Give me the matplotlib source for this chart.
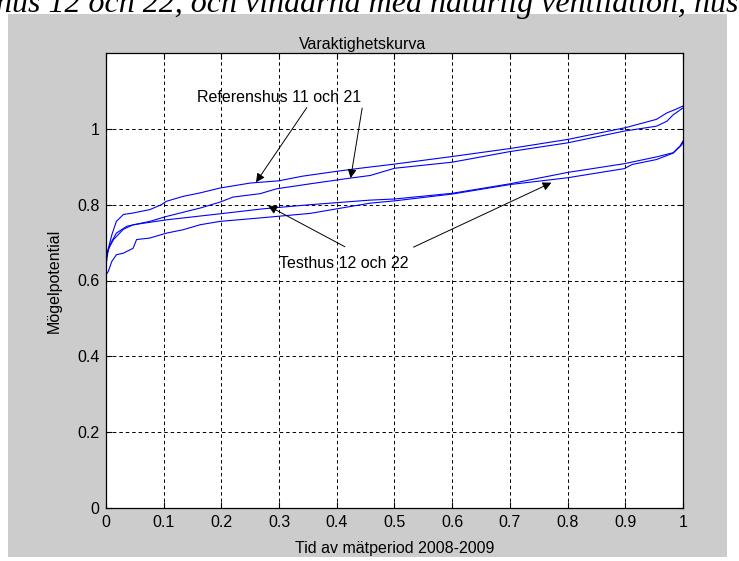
import matplotlib
matplotlib.use("Agg")
import matplotlib.pyplot as plt
from matplotlib.patches import Rectangle

# duration curves (fraction of period -> mould potential)
ref_a_x = [0, .002, .01, .018, .03, .047, .076, .096, .105, .134, .163, .198, .25, .30, .34, .40, .44, .50, .60, .70, .80, .90, .954, .972, .985, 1.0]
ref_a_y = [.66, .672, .72, .756, .774, .778, .787, .80, .809, .822, .831, .844, .857, .863, .875, .888, .896, .907, .927, .948, .972, 1.003, 1.025, 1.042, 1.05, 1.06]

ref_b_x = [0, .007, .018, .036, .076, .105, .163, .198, .22, .267, .296, .354, .423, .458, .50, .60, .70, .80, .898, .954, .972, .983, 1.0]
ref_b_y = [.66, .695, .725, .743, .756, .769, .791, .807, .82, .829, .842, .855, .87, .877, .896, .912, .94, .963, .994, 1.007, 1.02, 1.037, 1.055]

test_c_x = [0, .004, .013, .03, .047, .105, .198, .272, .354, .423, .458, .50, .60, .70, .80, .898, .954, .983, .995, 1.0]
test_c_y = [.64, .682, .708, .735, .747, .76, .776, .789, .80, .808, .812, .815, .83, .855, .885, .908, .926, .937, .955, .968]

test_d_x = [0, .004, .01, .018, .03, .047, .053, .076, .105, .134, .163, .198, .267, .354, .423, .458, .50, .60, .70, .80, .898, .912, .954, .983, .998, 1.0]
test_d_y = [.615, .624, .65, .668, .672, .685, .708, .712, .725, .734, .747, .756, .765, .777, .795, .804, .81, .828, .853, .871, .895, .906, .919, .936, .958, .965]

x_ticks = [0, 0.1, 0.2, 0.3, 0.4, 0.5, 0.6, 0.7, 0.8, 0.9, 1]
x_tick_labels = ["0", "0.1", "0.2", "0.3", "0.4", "0.5", "0.6", "0.7", "0.8", "0.9", "1"]
y_ticks = [0, 0.2, 0.4, 0.6, 0.8, 1]
y_tick_labels = ["0", "0.2", "0.4", "0.6", "0.8", "1"]

plt.rcParams['font.family'] = ['Liberation Sans', 'DejaVu Sans']
plt.rcParams['font.size'] = 11.5

W, H = 739, 561
fig = plt.figure(figsize=(W / 100, H / 100), dpi=100, facecolor='white')

# matlab grey figure area
fig.patches.append(Rectangle((8 / W, 4 / H), 719 / W, 543 / H, transform=fig.transFigure,
                             facecolor='#cccccc', edgecolor='none', zorder=-1))
# leftover line of the report text above the picture (cut at the top, as in the scan)
fig.text(-4 / W, 1 - 12 / H, "hus 12 och 22, och vindarna med naturlig ventilation, hus",
         family='Liberation Serif', style='italic', fontsize=23, va='baseline', ha='left', zorder=5)

ax = fig.add_axes([106 / W, 53 / H, 577 / W, 455 / H])
ax.set_facecolor('white')

for xs, ys in [(ref_a_x, ref_a_y), (ref_b_x, ref_b_y), (test_c_x, test_c_y), (test_d_x, test_d_y)]:
    ax.plot(xs, ys, color=(0, 0, 1), lw=0.8)

ax.set_xlim(0, 1)
ax.set_ylim(0, 1.2)
ax.set_xticks(x_ticks)
ax.set_xticklabels(x_tick_labels)
ax.set_yticks(y_ticks)
ax.set_yticklabels(y_tick_labels)
ax.tick_params(direction='in', length=4, width=0.8, top=True, right=True, colors='k')
ax.tick_params(axis='y', pad=4.5)
ax.tick_params(axis='x', pad=5)
ax.grid(True, color='k', lw=0.7, linestyle=(0, (3.6, 3.0)))
for s in ax.spines.values():
    s.set_linewidth(0.9)
    s.set_color('k')

ax.set_title("Varaktighetskurva", x=0.445, pad=3, fontsize=11.5)
ax.set_xlabel("Tid av mätperiod 2008-2009", labelpad=8)
ax.set_ylabel("Mögelpotential", labelpad=11)

# annotations with arrows
arrow = dict(arrowstyle='-|>', color='k', lw=0.7, mutation_scale=13, shrinkA=0, shrinkB=0)
ax.text(0.158, 1.083, "Referenshus 11 och 21", va='center', ha='left')
ax.annotate('', xy=(0.26, 0.859), xytext=(0.348, 1.056), arrowprops=arrow)
ax.annotate('', xy=(0.424, 0.870), xytext=(0.444, 1.055), arrowprops=arrow)
ax.text(0.30, 0.645, "Testhus 12 och 22", va='center', ha='left')
ax.annotate('', xy=(0.281, 0.797), xytext=(0.414, 0.689), arrowprops=arrow)
ax.annotate('', xy=(0.772, 0.858), xytext=(0.533, 0.688), arrowprops=arrow)

fig.savefig("out.png", dpi=100, facecolor=fig.get_facecolor())
